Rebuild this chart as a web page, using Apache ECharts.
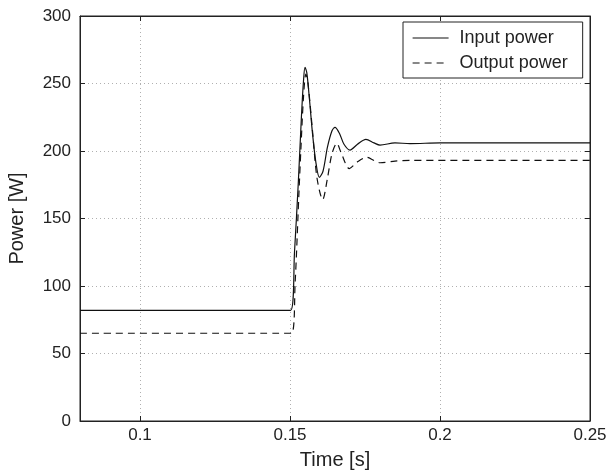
<!DOCTYPE html>
<html>
<head>
<meta charset="utf-8">
<script src="https://cdn.jsdelivr.net/npm/echarts@6/dist/echarts.min.js"></script>
<style>html,body{margin:0;padding:0;background:#fff}#c{width:606px;height:476px}</style>
</head>
<body>
<div id="c"></div>
<script>
var xTicks = [0.1, 0.15, 0.2, 0.25];
var inputTime  = [0.08, 0.1502, 0.1515, 0.1528, 0.1538, 0.1545, 0.1550, 0.1556, 0.1565, 0.1575, 0.1586, 0.1598, 0.1610, 0.1625, 0.1640, 0.1650, 0.1665, 0.1680, 0.1700, 0.1725, 0.1753, 0.1780, 0.1800, 0.1850, 0.1900, 0.2000, 0.2500];
var inputPower = [82,   82,     125,    178,    225,    252,    262,    258,    238,    213,    192,    180.5,  185,    203,    215,    217.5,  213,    205,    200.7,  205,    208.6,  206,    204.4,  206,    205.5,  206,    206];
var outputTime  = [0.08, 0.1505, 0.1517, 0.1530, 0.1536, 0.1545, 0.1553, 0.1560, 0.1575, 0.1590, 0.1609, 0.1625, 0.1640, 0.1656, 0.1670, 0.1698, 0.1725, 0.1756, 0.1780, 0.1800, 0.1850, 0.1900, 0.2500];
var outputPower = [65,   65,     102,    170,    200,    240,    257,    250,    215,    180,    164,    180,    198,    205.7,  199,    187,    192,    195.3,  193,    191.3,  192.5,  193,    193];

function pairs(t, v) { return t.map(function (x, i) { return [x, v[i]]; }); }

var font = '"Liberation Sans", Arial, sans-serif';
var chart = echarts.init(document.getElementById('c'), null, {renderer: 'canvas'});
var gridLine = {show: true, lineStyle: {color: '#b0b0b0', type: [1, 3], width: 1}};
chart.setOption({
  animation: false,
  backgroundColor: '#fff',
  grid: {left: 80, right: 16, top: 16, bottom: 55, outerBoundsMode: 'none', containLabel: false,
    show: true, borderColor: '#222', borderWidth: 1, backgroundColor: 'transparent'},
  legend: {
    left: 403, top: 22, orient: 'vertical',
    backgroundColor: '#fff', borderColor: '#222', borderWidth: 1,
    padding: [7, 15, 6, 9], itemGap: 7, itemWidth: 36, itemHeight: 14,
    itemStyle: {opacity: 0},
    lineStyle: {width: 1.2},
    textStyle: {fontFamily: font, fontSize: 18, color: '#222', padding: [0, 0, 0, 6]},
    data: ['Input power', 'Output power']
  },
  xAxis: [{
    type: 'value', min: 0.08, max: 0.25,
    name: 'Time [s]', nameLocation: 'middle', nameGap: 29,
    nameTextStyle: {fontFamily: font, fontSize: 20, color: '#222'},
    axisLine: {show: true, onZero: false, lineStyle: {color: '#222', width: 1}},
    axisTick: {show: true, inside: true, length: 5, customValues: xTicks, lineStyle: {color: '#222'}},
    axisLabel: {customValues: xTicks, fontFamily: font, fontSize: 17, color: '#222', margin: 6,
      formatter: function (v) { return String(+v.toFixed(2)); }},
    splitLine: gridLine
  }, {
    type: 'value', min: 0.08, max: 0.25, position: 'top',
    axisLine: {show: true, onZero: false, lineStyle: {color: '#222'}},
    axisTick: {show: true, inside: true, length: 5, customValues: xTicks, lineStyle: {color: '#222'}},
    axisLabel: {show: false}, splitLine: {show: false}
  }],
  yAxis: [{
    type: 'value', min: 0, max: 300, interval: 50,
    name: 'Power [W]', nameLocation: 'middle', nameGap: 53,
    nameTextStyle: {fontFamily: font, fontSize: 20, color: '#222'},
    axisLine: {show: true, onZero: false, lineStyle: {color: '#222', width: 1}},
    axisTick: {show: true, inside: true, length: 5, lineStyle: {color: '#222'}},
    axisLabel: {fontFamily: font, fontSize: 17, color: '#222', margin: 9},
    splitLine: gridLine
  }, {
    type: 'value', min: 0, max: 300, interval: 50, position: 'right',
    axisLine: {show: true, onZero: false, lineStyle: {color: '#222'}},
    axisTick: {show: true, inside: true, length: 5, lineStyle: {color: '#222'}},
    axisLabel: {show: false}, splitLine: {show: false}
  }],
  series: [{
    name: 'Input power', type: 'line', symbol: 'none', smooth: 0.3,
    lineStyle: {color: '#111', width: 1.2, type: 'solid'}, itemStyle: {color: '#111'},
    data: pairs(inputTime, inputPower)
  }, {
    name: 'Output power', type: 'line', symbol: 'none', smooth: 0.3,
    lineStyle: {color: '#111', width: 1.2, type: [7, 5]}, itemStyle: {color: '#111'},
    data: pairs(outputTime, outputPower)
  }]
});
</script>
</body>
</html>
